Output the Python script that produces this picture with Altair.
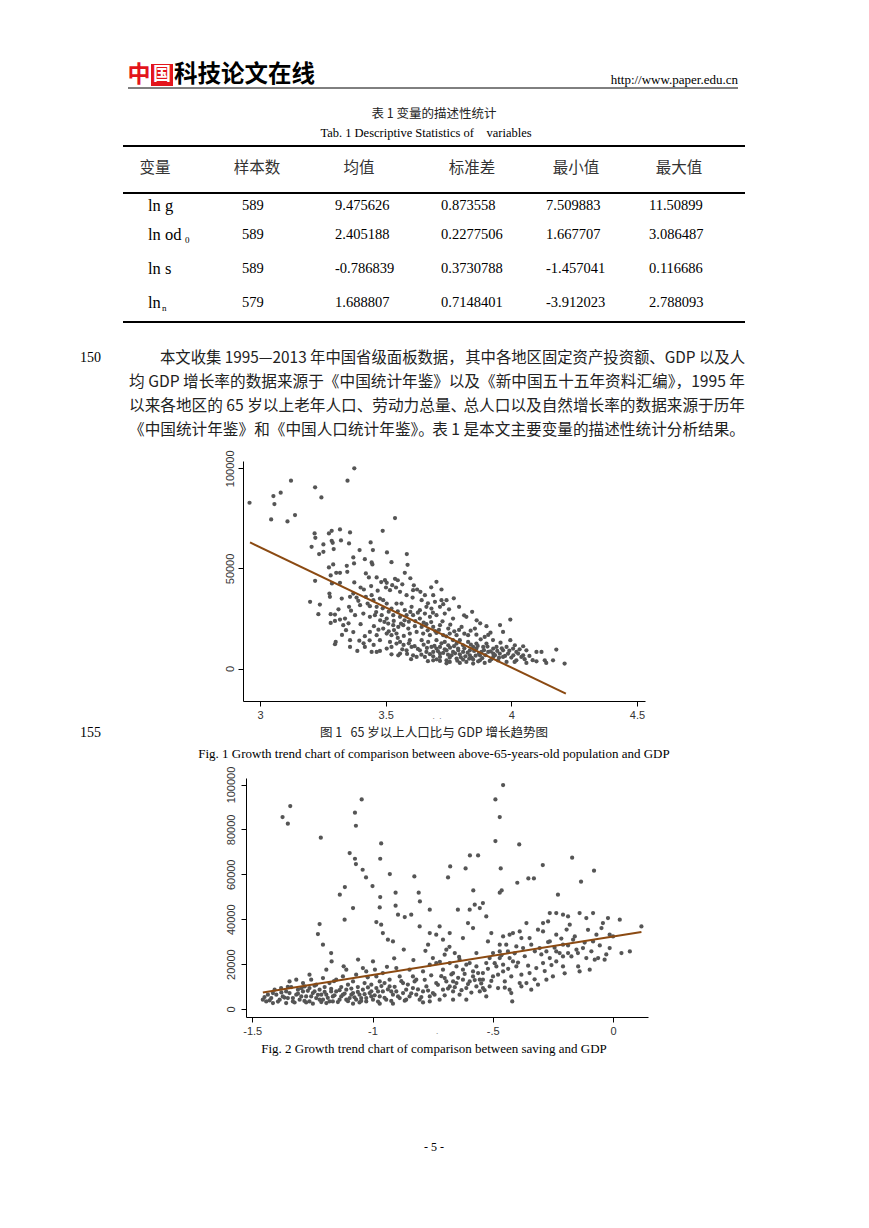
import altair as alt
import pandas as pd

SERIF = "Liberation Serif"
CJK = "Noto Sans CJK SC"
SANS = "Liberation Sans"
GRAY = "#555555"
BROWN = "#8b4a12"
RED = "#e3141b"

# ---------------- text content ----------------
logo_red = "中"
logo_box = "国"
logo_black = "科技论文在线"
site_url = "http://www.paper.edu.cn"
table_title_cn = "表 1  变量的描述性统计"
table_title_en = "Tab. 1 Descriptive Statistics of\u00a0\u00a0\u00a0\u00a0variables"
col_headers = ["变量", "样本数", "均值", "标准差", "最小值", "最大值"]
var_names = ["ln g", "ln od", "ln s", "ln"]
var_subs = ["", "0", "", "n"]
obs = ["589", "589", "589", "579"]
means = ["9.475626", "2.405188", "-0.786839", "1.688807"]
sds = ["0.873558", "0.2277506", "0.3730788", "0.7148401"]
mins = ["7.509883", "1.667707", "-1.457041", "-3.912023"]
maxs = ["11.50899", "3.086487", "0.116686", "2.788093"]
para_lines = [
    ("本文收集 1995—2013 年中国省级面板数据，", "其中各地区固定资产投资额、GDP 以及人"),
    ("均 GDP 增长率的数据来源于《中国统计年鉴》", "以及《新中国五十五年资料汇编》，1995 年"),
    ("以来各地区的 65 岁以上老年人口、劳动力总量、", "总人口以及自然增长率的数据来源于历年"),
    ("《中国统计年鉴》和《中国人口统计年鉴》。", "表 1 是本文主要变量的描述性统计分析结果。"),
]
line_numbers = ["150", "155"]
fig1_caption_cn = "图 1\u00a0\u00a0\u00a065 岁以上人口比与 GDP 增长趋势图"
fig1_caption_en = "Fig. 1 Growth trend chart of comparison between above-65-years-old population and GDP"
fig2_caption_en = "Fig. 2 Growth trend chart of comparison between saving and GDP"
page_no = "- 5 -"

# ---------------- Figure 1 data (x: ln od, y: GDP per capita) ----------------
fig1_x_ticks = [3, 3.5, 4, 4.5]
fig1_y_ticks = [0, 50000, 100000]
fig1_fit_x = [2.960, 4.217]
fig1_fit_y = [62980, -12500]
fig1_points = [
    (3.053, 86150), (3.082, 87810), (3.123, 93810), (3.219, 90480), (3.244, 85480), (3.348, 93810),
    (3.375, 99980), (2.958, 82800), (3.057, 82150), (3.044, 74480), (3.109, 73480), (3.139, 76650),
    (3.537, 75150), (3.488, 68810), (3.217, 67480), (3.220, 65310), (3.274, 67480), (3.285, 68810),
    (3.318, 69480), (3.358, 67980), (3.205, 60810), (3.252, 61980), (3.285, 63810), (3.289, 62810),
    (3.322, 63980), (3.354, 62480), (3.235, 57150), (3.252, 58310), (3.293, 59650), (3.396, 59150),
    (3.440, 62980), (3.449, 59150), (3.505, 57980), (3.584, 57150), (3.371, 55480), (3.417, 54640),
    (3.444, 52980), (3.447, 51980), (3.523, 53140), (3.587, 51810), (3.274, 50480), (3.291, 51980),
    (3.345, 51310), (3.374, 52480), (3.303, 47810), (3.318, 47810), (3.347, 48310), (3.281, 46480),
    (3.421, 47480), (3.433, 45480), (3.464, 45480), (3.576, 47810), (3.219, 43810), (3.286, 42480),
    (3.318, 42810), (3.375, 42980), (3.400, 40480), (3.413, 39480), (3.497, 44140), (3.504, 42810),
    (3.537, 44810), (3.702, 43310), (3.276, 37480), (3.278, 35810), (3.325, 34980), (3.358, 35810),
    (3.371, 37480), (3.384, 35480), (3.421, 35810), (3.444, 36640), (3.451, 34140), (3.477, 34980),
    (3.501, 40480), (3.517, 39140), (3.526, 41640), (3.541, 40480), (3.557, 38310), (3.583, 36640),
    (3.609, 39140), (3.625, 39480), (3.607, 35480), (3.643, 34140), (3.656, 36640), (3.689, 36640),
    (3.722, 39480), (3.696, 33310), (3.722, 34140), (3.742, 34140), (3.199, 33310), (3.238, 31970),
    (3.354, 30810), (3.398, 31640), (3.428, 32470), (3.437, 31140), (3.464, 30810), (3.490, 34140),
    (3.504, 32470), (3.523, 29970), (3.543, 32470), (3.563, 32470), (3.576, 29140), (3.603, 30810),
    (3.636, 29140), (3.662, 30810), (3.682, 29970), (3.716, 30810), (3.729, 32140), (3.792, 30810),
    (3.232, 27140), (3.281, 27140), (3.298, 26970), (3.318, 24470), (3.338, 24970), (3.378, 26640),
    (3.411, 27470), (3.437, 25810), (3.457, 26640), (3.484, 26640), (3.504, 24970), (3.530, 26640),
    (3.557, 25810), (3.583, 26640), (3.609, 26640), (3.636, 24970), (3.656, 27470), (3.676, 25810),
    (3.702, 26640), (3.735, 27470), (3.768, 24970), (3.821, 25810), (3.844, 28310), (3.281, 22800),
    (3.298, 23800), (3.331, 21640), (3.400, 22140), (3.453, 21140), (3.490, 19970), (3.510, 22470),
    (3.530, 21640), (3.550, 20810), (3.570, 21640), (3.590, 19970), (3.616, 21140), (3.643, 20810),
    (3.662, 22140), (3.689, 20810), (3.716, 21640), (3.749, 19970), (3.802, 20810), (3.855, 19970),
    (3.901, 21140), (3.996, 24470), (3.342, 19140), (3.417, 16140), (3.437, 18300), (3.464, 16640),
    (3.504, 17470), (3.523, 16640), (3.543, 17470), (3.572, 16300), (3.596, 17470), (3.623, 18300),
    (3.649, 17470), (3.676, 16640), (3.702, 17800), (3.729, 16640), (3.755, 17470), (3.782, 16640),
    (3.828, 16640), (3.894, 15800), (3.908, 16800), (3.967, 18300), (3.298, 12140), (3.301, 13300),
    (3.358, 14140), (3.358, 10810), (3.387, 8800), (3.417, 10810), (3.444, 8300), (3.464, 8300),
    (3.477, 8800), (3.504, 9970), (3.523, 10810), (3.543, 12470), (3.557, 7470), (3.583, 9140),
    (3.603, 10810), (3.609, 6630), (3.636, 9140), (3.662, 8300), (3.682, 10810), (3.702, 9970),
    (3.716, 7470), (3.742, 9140), (3.768, 8300), (3.788, 9970), (3.808, 8300), (3.835, 9140),
    (3.861, 9970), (3.881, 8300), (3.908, 8300), (3.928, 9970), (3.967, 9140), (3.996, 14140),
    (4.014, 11640), (4.047, 11140), (4.027, 7470), (4.047, 6630), (4.100, 8300), (4.120, 8300),
    (4.179, 9470), (3.477, 14140), (3.517, 13300), (3.557, 13300), (3.596, 14140), (3.643, 14140),
    (3.669, 13300), (3.702, 14140), (3.735, 13300), (3.768, 14140), (3.795, 14140), (3.828, 13300),
    (3.861, 12470), (3.901, 12470), (3.941, 10810), (3.981, 10810), (4.007, 9970), (3.523, 7130),
    (3.550, 6630), (3.623, 5800), (3.656, 5800), (3.689, 6130), (3.716, 5800), (3.755, 5470),
    (3.782, 4970), (3.808, 4470), (3.848, 4470), (3.875, 4140), (3.914, 3800), (3.947, 4140),
    (3.981, 3300), (4.020, 4140), (4.060, 2800), (4.100, 3640), (4.133, 4140), (4.139, 2800),
    (4.166, 4140), (4.212, 2470), (3.742, 4140), (3.821, 3300), (3.729, 7800), (3.762, 6630),
    (3.795, 7130), (3.835, 6630), (3.875, 6630), (3.928, 5800), (3.967, 5800), (4.000, 5470),
    (4.040, 5800), (3.689, 8300), (3.716, 10810), (3.749, 11640), (3.782, 12470), (3.808, 11640),
    (3.848, 10810), (3.888, 10810), (3.928, 7470), (3.954, 7470), (3.987, 7470), (4.020, 8300),
    (4.060, 9140), (3.689, 4140), (3.716, 3800), (3.755, 3300), (3.795, 2800), (3.848, 2470),
    (3.894, 2800),
    (3.571, 11800), (3.592, 12600), (3.615, 11200), (3.628, 9800), (3.651, 11900), (3.664, 10300),
    (3.676, 7200), (3.694, 11300), (3.708, 8700), (3.722, 12600), (3.735, 9600), (3.748, 6900),
    (3.756, 10400), (3.772, 11200), (3.776, 7600), (3.789, 9100), (3.799, 5600), (3.813, 10100),
    (3.817, 6100), (3.826, 7900), (3.839, 11900), (3.843, 5300), (3.852, 8800), (3.858, 6400),
    (3.866, 11300), (3.871, 7500), (3.884, 5200), (3.891, 9200), (3.897, 6700), (3.905, 11000),
    (3.918, 8600), (3.921, 4700), (3.935, 6700), (3.944, 8800), (3.951, 5400), (3.962, 10100),
    (3.975, 6300), (3.992, 8900), (4.008, 6600), (4.013, 3300), (4.033, 9600), (4.053, 4700),
    (4.072, 6300), (4.085, 4200), (3.868, 3600), (3.832, 4900), (3.785, 3900), (3.742, 2600),
    (3.703, 4600), (3.668, 3700), (3.642, 6900), (3.601, 4700), (3.585, 7300), (3.566, 9600),
    (3.548, 15300), (3.533, 19200), (3.512, 18600), (3.495, 23300), (3.478, 24100), (3.471, 19400),
    (3.462, 28200), (3.488, 30100), (3.512, 28400), (3.532, 23800), (3.548, 28600), (3.561, 22400),
    (3.575, 24100), (3.592, 23400), (3.598, 28300), (3.618, 23700), (3.628, 27900), (3.651, 22900),
    (3.667, 19100), (3.681, 23200), (3.697, 18700), (3.712, 19300), (3.726, 23600), (3.741, 16100),
    (3.757, 21900), (3.773, 18600), (3.792, 19300), (3.813, 17400), (3.838, 18900), (3.861, 16900),
    (3.878, 14600), (3.927, 14200), (3.957, 12900), (3.412, 12600), (3.436, 14100), (3.452, 11800),
    (3.395, 13900), (3.371, 18200), (3.352, 22600), (3.326, 16800), (3.312, 29600), (3.362, 28900),
    (3.391, 33800), (3.442, 41200), (3.468, 38900), (3.482, 43200), (3.548, 44100), (3.566, 42100),
    (3.598, 45100), (3.612, 41600), (3.638, 38300), (3.668, 32600), (3.681, 40600), (3.752, 29600),
    (3.771, 35100), (3.688, 27900), (3.812, 26600), (3.862, 24100), (3.917, 17900), (3.955, 21700),
    (3.876, 22600),
]

# ---------------- Figure 2 data (x: ln s, y: GDP per capita) ----------------
fig2_x_ticks = [-1.5, -1, -0.5, 0]
fig2_y_ticks = [0, 20000, 40000, 60000, 80000, 100000]
fig2_fit_x = [-1.456, 0.118]
fig2_fit_y = [7400, 34280]
fig2_points = [
    (-1.342, 90400), (-1.374, 85490), (-1.352, 82530), (-1.215, 76290), (-1.045, 93370), (-1.073, 87430),
    (-1.069, 81630), (-0.964, 73760), (-1.095, 69460), (-1.073, 66930), (-1.069, 64560), (-0.968, 66930),
    (-1.041, 62030), (-1.027, 58620), (-0.928, 60100), (-0.826, 59060), (-1.000, 54760), (-1.115, 54310),
    (-1.136, 50900), (-0.904, 51790), (-0.808, 51790), (-0.968, 49860), (-0.803, 47930),
    (-0.457, 99750), (-0.489, 93370), (-0.471, 85500), (-0.489, 74800), (-0.390, 73320), (-0.595, 68420),
    (-0.561, 68420), (-0.677, 63520), (-0.613, 62630), (-0.467, 62630), (-0.686, 58620), (-0.292, 64110),
    (-0.170, 67380), (-0.079, 61590), (-0.133, 56690), (-0.352, 58170), (-0.329, 58170), (-0.398, 56240),
    (-0.581, 52830), (-0.471, 51790), (-0.463, 52830), (-0.229, 50900),
    (-1.220, 37840), (-1.227, 33380), (-1.206, 28630), (-1.172, 24920), (-1.170, 21210), (-1.192, 17500),
    (-1.116, 39770), (-1.081, 44970), (-0.984, 38730), (-0.970, 45270), (-0.964, 37540), (-0.957, 33830),
    (-0.936, 30860), (-0.915, 30120), (-0.904, 46010), (-0.894, 42000), (-0.866, 40960), (-0.839, 42000),
    (-0.762, 44230), (-0.762, 33830), (-0.804, 36800), (-0.769, 28630), (-0.735, 33090), (-0.707, 30860),
    (-0.721, 36800), (-0.700, 24180), (-0.679, 33830), (-0.693, 26410), (-0.658, 24920), (-0.645, 44230),
    (-0.596, 44230), (-0.575, 46450), (-0.554, 44970), (-0.527, 41260), (-0.506, 33830), (-0.520, 30120),
    (-0.541, 47200), (-0.582, 36060), (-0.603, 38290), (-0.568, 24920), (-0.624, 31600), (-0.513, 22690),
    (-0.471, 28630), (-0.457, 32350), (-0.430, 33090), (-0.416, 33830), (-0.388, 34570), (-0.360, 38290),
    (-0.347, 31600), (-0.312, 35320), (-0.291, 38290), (-0.263, 42740), (-0.236, 42740), (-0.208, 42000),
    (-0.187, 41260), (-0.180, 37540), (-0.159, 32350), (-0.139, 42740), (-0.111, 40510), (-0.083, 42740),
    (-0.069, 33090), (-0.048, 36060), (-0.021, 40510), (0.028, 39770), (0.070, 25670), (0.118, 36800),
    (0.035, 24920), (-0.014, 33090), (-0.042, 38290), (-0.270, 39030), (-0.291, 34570), (-0.263, 30120),
    (-0.236, 33090), (-0.208, 28630), (-0.222, 24920), (-0.173, 23440), (-0.152, 26410), (-0.125, 27150),
    (-0.111, 22690), (-0.097, 17500), (-0.076, 21950), (-0.062, 22690), (-0.035, 21950), (-0.014, 27150),
    (0.000, 32350), (-0.083, 30120), (-0.139, 16750), (-0.145, 18980), (-0.187, 24920), (-0.208, 18980),
    (-0.236, 21210), (-0.250, 14530), (-0.277, 13040), (-0.312, 10810), (-0.340, 8590), (-0.360, 11560),
    (-0.381, 15270), (-0.402, 18980), (-0.416, 21210), (-0.430, 22690), (-0.437, 25670), (-0.471, 22690),
    (-0.485, 18980), (-0.457, 16750), (-0.423, 14530), (-0.388, 11560), (-0.347, 16010), (-0.319, 18240),
    (-0.291, 20470), (-0.263, 22690), (-0.236, 25670), (-0.208, 23440), (-0.277, 25670), (-0.305, 27150),
    (-0.340, 28630), (-0.374, 27150), (-0.402, 27890), (-0.444, 28630), (-0.471, 25670), (-0.499, 24920),
    (-0.527, 20470), (-0.541, 16010), (-0.499, 14530), (-0.513, 10070), (-0.478, 9330), (-0.450, 12300),
    (-0.423, 7100), (-0.419, 3390), (-0.430, 8590), (-0.381, 10070), (-0.457, 19720),
    (-1.456, 4130), (-1.421, 4870), (-1.400, 6360), (-1.386, 4130), (-1.373, 5620), (-1.345, 7100),
    (-1.331, 4870), (-1.317, 6360), (-1.303, 4130), (-1.289, 7840), (-1.276, 5620), (-1.262, 3390),
    (-1.248, 7100), (-1.234, 4870), (-1.220, 8590), (-1.206, 4130), (-1.192, 6360), (-1.179, 3390),
    (-1.165, 5620), (-1.151, 7840), (-1.137, 4130), (-1.123, 6360), (-1.109, 8590), (-1.095, 4870),
    (-1.081, 7100), (-1.068, 4130), (-1.054, 6360), (-1.040, 8590), (-1.026, 4870), (-1.012, 7100),
    (-0.998, 4130), (-0.984, 9330), (-0.970, 5620), (-0.957, 7840), (-0.943, 4130), (-0.929, 10070),
    (-0.915, 6360), (-0.901, 7840), (-0.887, 4870), (-0.873, 7100), (-0.860, 8590), (-0.846, 5620),
    (-0.832, 9330), (-0.818, 6360), (-0.804, 4130), (-0.790, 7840), (-0.776, 10070), (-0.762, 5620),
    (-0.749, 7100), (-0.735, 11560), (-0.721, 4130), (-0.707, 8590), (-0.693, 12300), (-0.679, 10070),
    (-0.665, 7840), (-0.651, 11560), (-0.638, 6360), (-0.624, 13040), (-0.610, 9330), (-0.596, 12300),
    (-0.582, 14530), (-0.568, 10070), (-0.554, 7840), (-0.541, 13040), (-0.527, 5620),
    (-1.345, 12300), (-1.317, 13040), (-1.289, 11560), (-1.262, 15270), (-1.255, 13040), (-1.234, 10810),
    (-1.206, 13780), (-1.179, 11560), (-1.151, 13040), (-1.123, 14530), (-1.109, 17500), (-1.081, 12300),
    (-1.068, 15270), (-1.040, 18240), (-1.026, 16750), (-0.998, 21210), (-0.984, 14530), (-0.970, 12300),
    (-0.957, 16010), (-0.929, 13040), (-0.901, 18240), (-0.887, 14530), (-0.873, 11560), (-0.846, 17500),
    (-0.832, 14530), (-0.818, 13040), (-0.790, 16750), (-0.762, 19720), (-0.749, 22690), (-0.735, 20470),
    (-0.707, 17500), (-0.679, 20470), (-0.665, 16010), (-0.651, 18980), (-0.638, 21950), (-0.624, 17500),
    (-0.610, 19720), (-0.596, 20470), (-0.582, 16750), (-0.568, 18980), (-0.554, 13040), (-0.541, 9330),
    (-0.665, 12300), (-0.700, 13780),
    (-1.442, 3390), (-1.414, 2650), (-1.359, 2650), (-1.331, 3390), (-1.276, 2950), (-1.248, 2360),
    (-1.220, 4130), (-1.192, 2650), (-1.165, 3390), (-1.109, 4130), (-1.081, 2360), (-1.054, 2950),
    (-1.026, 3390), (-0.970, 2360), (-0.915, 2360), (-0.860, 4130), (-0.790, 2950), (-0.762, 3390),
    (-0.665, 4130), (-0.610, 4130),
    (-1.435, 6360), (-1.407, 8590), (-1.380, 9330), (-1.359, 7840), (-1.338, 9780), (-1.310, 8590),
    (-1.282, 10070), (-1.262, 9330), (-1.241, 7840), (-1.199, 9780), (-1.172, 7840), (-1.130, 9780),
    (-1.102, 10810), (-1.061, 9780), (-1.033, 11560), (-1.005, 10810), (-0.977, 7840), (-0.950, 11560),
    (-0.922, 7840), (-1.005, 5620), (-1.047, 4870), (-1.088, 6360), (-1.130, 5620), (-1.213, 6360),
    (-1.296, 5620), (-1.352, 4870),
    (-1.449, 5300), (-1.428, 3800), (-1.414, 7100), (-1.393, 3300), (-1.379, 7400), (-1.366, 5100),
    (-1.352, 9900), (-1.324, 2900), (-1.310, 6800), (-1.296, 9300), (-1.283, 3600), (-1.269, 8100),
    (-1.255, 5600), (-1.241, 10400), (-1.227, 6300), (-1.213, 3100), (-1.199, 7600), (-1.186, 5000),
    (-1.172, 9000), (-1.158, 6100), (-1.144, 3100), (-1.137, 8400), (-1.116, 6900), (-1.102, 3500),
    (-1.088, 9100), (-1.075, 5200), (-1.061, 7600), (-1.047, 3600), (-1.033, 6600), (-1.019, 9600),
    (-1.005, 7900), (-0.991, 6100), (-0.977, 3300), (-0.963, 10200), (-0.950, 5000), (-0.936, 8700),
    (-0.922, 3600), (-0.908, 9900), (-0.894, 5600), (-0.880, 12400), (-0.866, 3700), (-0.853, 10900),
    (-0.839, 7000), (-0.825, 12300), (-0.811, 8700), (-0.797, 5300), (-0.783, 13000), (-0.769, 8200),
    (-0.756, 15000), (-0.742, 6400), (-0.728, 10800), (-0.714, 14600), (-0.700, 6100), (-0.686, 9100),
    (-0.672, 15400), (-0.658, 9700), (-0.644, 13900), (-0.630, 8400), (-0.617, 15600), (-0.603, 11100),
    (-0.589, 7300), (-0.575, 12900), (-0.561, 16000), (-0.548, 11400), (-0.534, 8400), (-0.520, 17900),
    (-0.506, 12500), (-0.492, 20400), (-0.478, 15300), (-0.464, 23900), (-0.450, 9500), (-0.436, 17900),
    (-0.409, 24800), (-0.395, 20700), (-0.367, 23500), (-0.353, 19300), (-0.326, 13200), (-0.298, 24300),
    (-0.284, 16900), (-0.270, 29800), (-0.256, 19600), (-0.243, 27300), (-0.215, 31400), (-0.201, 15900),
    (-0.187, 28300), (-0.166, 30900), (-0.146, 24900), (-0.118, 29600), (-0.090, 25700), (-0.055, 28300),
    (-0.028, 24300), (-0.104, 35300), (-0.193, 35400), (-0.325, 25700), (-0.381, 31600), (-1.120, 19000),
    (-1.060, 22000), (-0.990, 17500), (-0.910, 22600), (-0.870, 26500), (-0.830, 21800), (-0.780, 25900),
    (-0.720, 21000), (-0.680, 27700), (-0.640, 23200), (-1.160, 12400), (-1.020, 14100), (-0.940, 18800),
]

# ---------------- helpers (layout only) ----------------
ONE = pd.DataFrame({"a": [0]})


def T(s, x, y, size=14, font=SERIF, align="left", weight="normal", color="#000"):
    return alt.Chart(pd.DataFrame({"t": [s]})).mark_text(
        align=align, baseline="middle", font=font, fontSize=size,
        fontWeight=weight, color=color
    ).encode(x=alt.value(x), y=alt.value(y), text="t:N")


def R(x1, x2, y, w=1.0):
    return alt.Chart(ONE).mark_rule(color="black", strokeWidth=w).encode(
        x=alt.value(x1), x2=alt.value(x2), y=alt.value(y))


def BOX(x1, x2, y1, y2, color):
    return alt.Chart(ONE).mark_rect(color=color).encode(
        x=alt.value(x1), x2=alt.value(x2), y=alt.value(y1), y2=alt.value(y2))


PAGE_W = 853
ox, oy = 8, 8

# ---------------- top panel (header, table, paragraph) ----------------
top_layers = [
    BOX(151 - ox, 173 - ox, 64 - oy, 86 - oy, RED),
    T(logo_red, 139 - ox, 75 - oy, size=23, font=CJK, align="center", weight="bold", color=RED),
    T(logo_box, 162 - ox, 75 - oy, size=18, font=CJK, align="center", weight="bold", color="#ffffff"),
    T(logo_black, 174 - ox, 75 - oy, size=23.5, font=CJK, weight="bold"),
    T(site_url, 738 - ox, 80 - oy, size=13, align="right"),
    R(128 - ox, 738 - ox, 88 - oy, 1),
    T(table_title_cn, 434 - ox, 114 - oy, size=12.5, font=CJK, align="center", color="#222"),
    T(table_title_en, 426 - ox, 133 - oy, size=12.5, align="center"),
    R(123 - ox, 745 - ox, 146 - oy, 2),
    R(123 - ox, 745 - ox, 193 - oy, 2),
    R(123 - ox, 745 - ox, 322 - oy, 2),
]
head_cx = [155, 257, 359, 472, 576, 679]
for h, cx in zip(col_headers, head_cx):
    top_layers.append(T(h, cx - ox, 168 - oy, size=15.5, font=CJK, align="center", color="#333"))
row_y = [206, 235, 269, 303]
col_x = [242, 335, 441, 546, 649]
for i, ry in enumerate(row_y):
    top_layers.append(T(var_names[i], 148 - ox, ry - oy, size=16.5))
    if var_subs[i]:
        sx = 185 if var_subs[i] == "0" else 162
        top_layers.append(T(var_subs[i], sx - ox, ry + 5 - oy, size=9))
    for val, cx in zip([obs[i], means[i], sds[i], mins[i], maxs[i]], col_x):
        top_layers.append(T(val, cx - ox, ry - oy, size=14.5))
para_y = [358, 382, 406, 430]
para_x = [160, 129, 129, 129]
para_size = [15.35, 15.65, 15.65, 15.65]
for (lt, rt), py, px, fs in zip(para_lines, para_y, para_x, para_size):
    top_layers.append(T(lt, px - ox, py - oy, size=fs, font=CJK, color="#222"))
    top_layers.append(T(rt, 745 - ox, py - oy, size=fs, font=CJK, align="right", color="#222"))
top_layers.append(T(line_numbers[0], 80 - ox, 358 - oy, size=14))
top_panel = alt.layer(*top_layers).properties(width=PAGE_W, height=453)


# ---------------- scatter plots ----------------
def x_axis(vals, expr):
    return alt.Axis(values=vals, title=None, grid=False, domainColor="black", domainWidth=1,
                    tickColor="black", tickSize=5, tickWidth=1, labelFont=SANS, labelFontSize=11,
                    labelColor="#333", labelPadding=3, labelFlush=False, labelOverlap=False,
                    labelExpr=expr)


def y_axis(vals, pad, left):
    return alt.Axis(values=vals, title=None, grid=False, domainColor="black", domainWidth=1,
                    tickColor="black", tickSize=5, tickWidth=1, labelFont=SANS, labelFontSize=11,
                    labelColor="#333", labelAngle=270, labelAlign="center", labelBaseline="bottom",
                    labelPadding=pad, labelOverlap=False, labelExpr="toString(datum.value)",
                    offset=-left)


def scatter(points, fit_x, fit_y, xdom, ydom, xt, yt, xexpr, ypad, left, w, h):
    # the plot frame starts `left` px into the page-wide column
    df = pd.DataFrame(points, columns=["x", "y"])
    xs = alt.Scale(domain=xdom, nice=False, zero=False, range=[left, left + w])
    ys = alt.Scale(domain=ydom, nice=False, zero=False)
    pts = alt.Chart(df).mark_circle(size=18, color=GRAY, opacity=1).encode(
        x=alt.X("x:Q", scale=xs, axis=x_axis(xt, xexpr)),
        y=alt.Y("y:Q", scale=ys, axis=y_axis(yt, ypad, left)),
    )
    fit = alt.Chart(pd.DataFrame({"x": fit_x, "y": fit_y})).mark_line(
        color=BROWN, strokeWidth=2).encode(x=alt.X("x:Q", scale=xs), y=alt.Y("y:Q", scale=ys))
    return alt.layer(pts, fit).properties(width=left + w, height=h)


fig1 = scatter(fig1_points, fig1_fit_x, fig1_fit_y, [2.932, 4.532], [-16200, 103650],
               fig1_x_ticks, fig1_y_ticks, "toString(datum.value)", 3, 235, 402, 240)
fig2 = scatter(fig2_points, fig2_fit_x, fig2_fit_y, [-1.526, 0.1454], [-3560, 102900],
               fig2_x_ticks, fig2_y_ticks,
               "datum.value == -0.5 ? '-.5' : toString(datum.value)", 5, 238, 402, 239)

# ---------------- middle panel (figure 1 captions) ----------------
my = 701
mid_panel = alt.layer(
    T(".\u00a0\u00a0.", 437 - ox, 716 - my, size=9, align="center", color="#666"),
    T(line_numbers[1], 80 - ox, 733 - my, size=14),
    T(fig1_caption_cn, 434 - ox, 733 - my, size=12.5, font=CJK, align="center", color="#222"),
    T(fig1_caption_en, 434 - ox, 754 - my, size=13, align="center"),
).properties(width=PAGE_W, height=77)

# ---------------- bottom panel ----------------
by = 1017
bottom_panel = alt.layer(
    T(".", 437 - ox, 1031 - by, size=9, align="center", color="#666"),
    T(fig2_caption_en, 434 - ox, 1049 - by, size=13, align="center"),
    T(page_no, 434 - ox, 1147 - by, size=12, align="center"),
).properties(width=PAGE_W, height=190)

chart = alt.vconcat(top_panel, fig1, mid_panel, fig2, bottom_panel, spacing=0, bounds="flush")
chart = chart.properties(padding=0).configure_view(strokeWidth=0)

chart.save("out.html", embed_options={"renderer": "svg", "actions": False})
